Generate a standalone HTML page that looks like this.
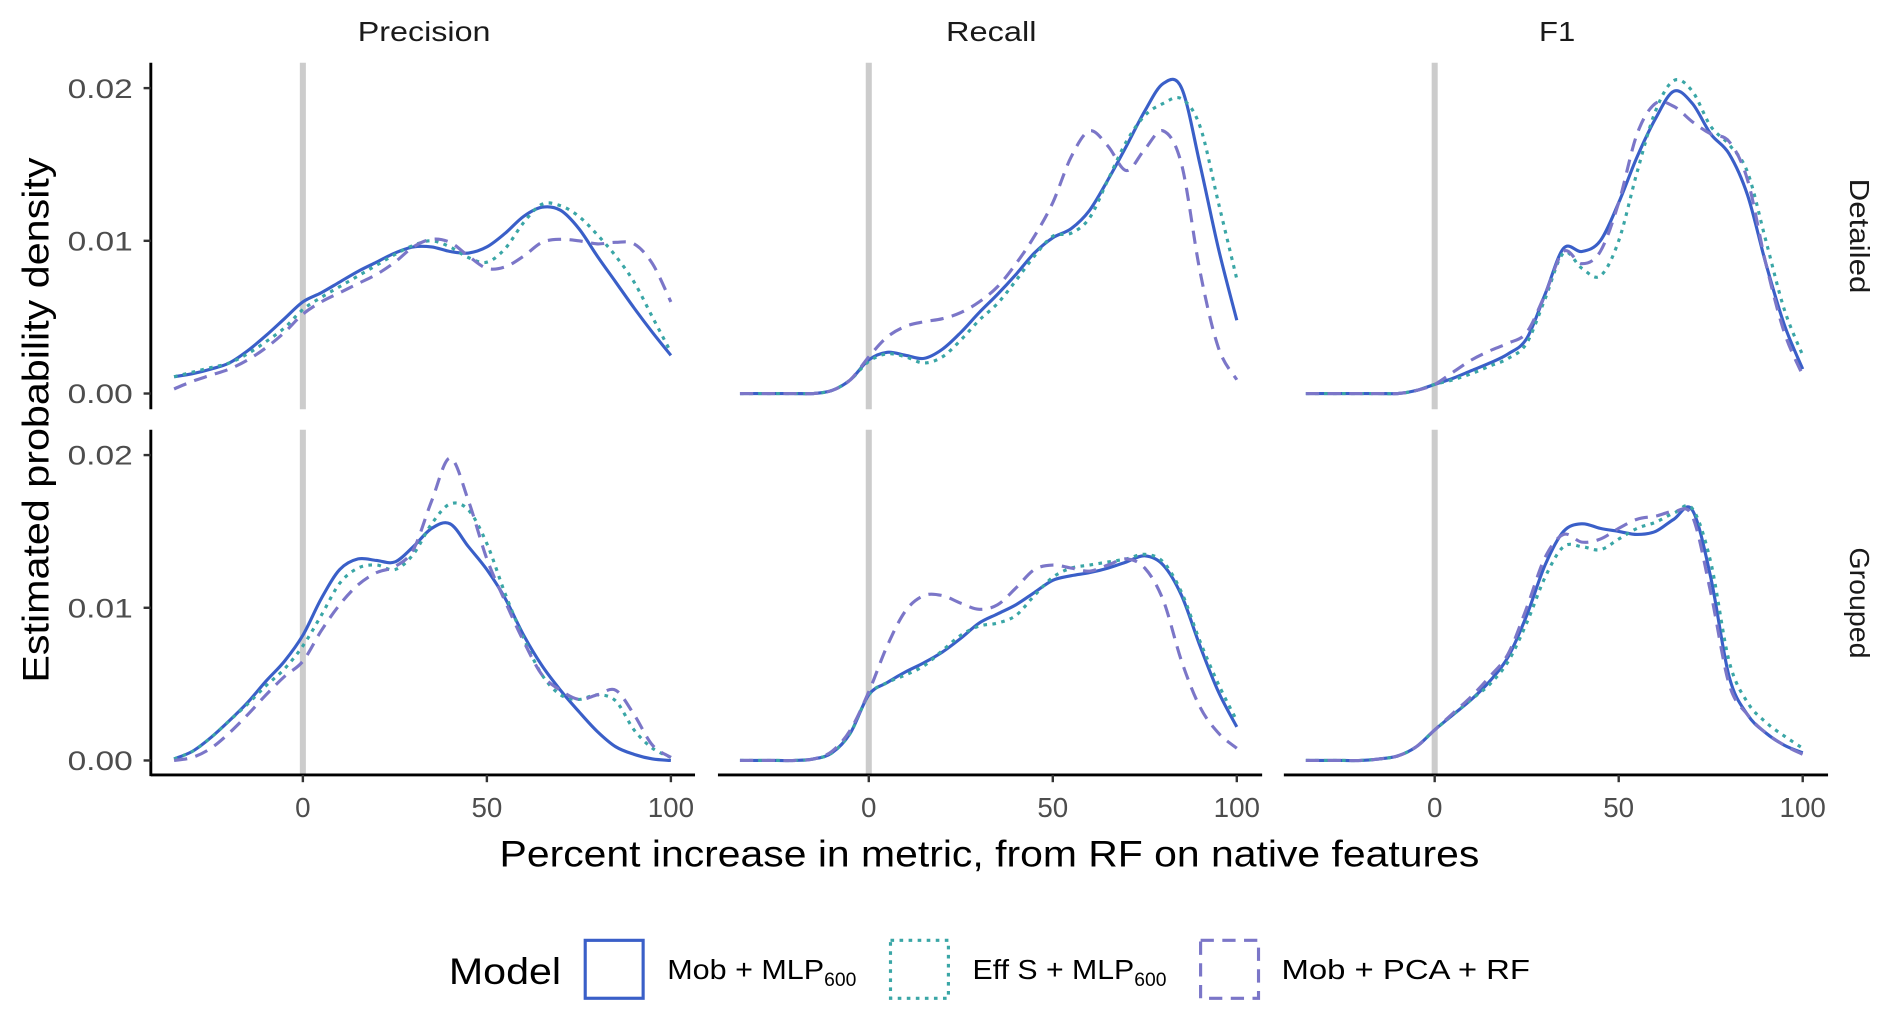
<!DOCTYPE html>
<html><head><meta charset="utf-8"><style>
html,body{margin:0;padding:0;background:#fff;}
svg{display:block;font-family:"Liberation Sans",sans-serif;}
</style></head><body>
<svg id="chart" width="1892" height="1020" viewBox="0 0 1568 845" preserveAspectRatio="none" xmlns="http://www.w3.org/2000/svg"></svg>
<script>
const xs = [-35,-30,-25,-20,-15,-10,-5,0,5,10,15,20,25,30,35,40,45,50,55,60,65,70,75,80,85,90,95,100];
const metrics = ["Precision","Recall","F1"];
const groups = ["Detailed","Grouped"];
const seriesNames = ["Mob + MLP600","Eff S + MLP600","Mob + PCA + RF"];
const yTicks = [0, 0.01, 0.02];
const yTickLabels = ["0.00","0.01","0.02"];
const xTicks = [0, 50, 100];
// densities in thousandths
const precDetBlue = [1.1,1.3,1.6,2.0,2.8,3.8,4.9,6.0,6.6,7.3,8.0,8.6,9.2,9.6,9.6,9.3,9.2,9.6,10.5,11.6,12.2,12.0,10.8,9.0,7.3,5.6,4.0,2.5];
const precDetTeal = [1.1,1.4,1.7,2.0,2.6,3.4,4.3,5.5,6.3,7.0,7.7,8.4,9.1,9.7,10.0,9.6,8.9,8.6,9.5,11.2,12.4,12.3,11.6,10.4,9.0,7.3,5.0,2.7];
const precDetPurple = [0.3,0.8,1.2,1.6,2.2,3.0,4.0,5.2,6.0,6.6,7.2,7.8,8.6,9.6,10.1,9.9,9.0,8.2,8.3,9.0,9.9,10.1,10.0,9.8,9.9,9.8,8.5,6.0];
const recDetBlue = [0,0,0,0,0,0.2,0.9,2.2,2.7,2.5,2.3,2.9,4.0,5.3,6.5,7.8,9.2,10.2,10.8,12.0,14.0,16.2,18.5,20.3,20.0,15.0,9.5,4.8];
const recDetTeal = [0,0,0,0,0,0.2,0.9,2.1,2.6,2.4,2.0,2.4,3.5,4.8,5.9,7.4,9.0,10.3,10.5,11.5,14.0,16.5,18.2,19.0,19.3,17.5,12.5,7.5];
const recDetPurple = [0,0,0,0,0,0.2,0.9,2.4,3.7,4.4,4.7,4.9,5.3,6.0,7.0,8.5,10.3,12.5,15.5,17.2,16.2,14.6,16.0,17.2,15.0,8.0,3.0,0.9];
const f1DetBlue = [0,0,0,0,0,0,0.2,0.6,1.0,1.5,2.0,2.6,3.6,6.5,9.5,9.3,10.0,12.5,15.5,18.0,19.8,19.0,17.0,15.7,13.0,8.5,4.5,1.6];
const f1DetTeal = [0,0,0,0,0,0,0.2,0.6,0.9,1.3,1.8,2.3,3.3,6.2,9.2,8.2,7.7,10.0,14.5,18.5,20.5,19.8,17.5,16.3,14.5,10.0,5.5,2.5];
const f1DetPurple = [0,0,0,0,0,0,0.2,0.6,1.4,2.2,2.8,3.3,4.0,6.5,9.3,8.5,9.3,12.5,17.0,19.0,18.8,17.8,17.0,16.5,14.0,8.5,4.0,1.2];
const precGrpBlue = [0.1,0.6,1.5,2.6,3.8,5.2,6.5,8.2,10.6,12.5,13.2,13.1,13.0,14.0,15.2,15.5,14.0,12.5,10.6,8.2,6.2,4.6,3.2,1.9,0.9,0.4,0.1,0.0];
const precGrpTeal = [0.1,0.6,1.5,2.6,3.7,4.9,6.0,7.5,9.5,11.6,12.6,12.8,12.5,13.5,15.5,16.8,16.4,14.2,10.9,8.0,5.6,4.3,4.0,4.3,3.9,2.0,0.8,0.2];
const precGrpPurple = [0.0,0.2,0.8,1.8,3.0,4.3,5.5,6.5,8.5,10.2,11.5,12.3,12.7,13.8,17.0,19.8,17.0,13.2,10.4,7.8,5.6,4.6,4.0,4.3,4.6,3.0,1.0,0.2];
const recGrpBlue = [0,0,0,0,0.1,0.5,1.8,4.3,5.1,5.8,6.4,7.1,8.0,9.0,9.6,10.2,11.0,11.8,12.1,12.3,12.6,13.0,13.4,12.8,10.8,7.5,4.5,2.2];
const recGrpTeal = [0,0,0,0,0.1,0.5,1.8,4.3,5.1,5.6,6.2,7.2,8.2,8.8,9.0,9.5,10.8,12.0,12.6,12.8,13.0,13.2,13.5,13.0,11.0,7.8,5.0,2.6];
const recGrpPurple = [0,0,0,0,0.1,0.6,2.0,4.5,7.5,9.8,10.8,10.8,10.3,9.9,10.2,11.3,12.5,12.8,12.6,12.4,12.8,13.2,12.6,10.5,6.5,3.5,1.8,0.8];
const f1GrpBlue = [0,0,0,0,0.1,0.3,0.9,2.0,3.0,4.0,5.2,6.8,9.5,12.8,15.0,15.5,15.2,15.0,14.8,15.0,15.8,16.4,12.0,5.5,3.0,1.8,1.0,0.5];
const f1GrpTeal = [0,0,0,0,0.1,0.3,0.9,2.0,3.0,4.0,5.0,6.5,9.0,12.0,14.0,14.0,13.8,14.5,15.2,15.6,16.2,16.5,13.0,6.5,3.8,2.5,1.6,0.8];
const f1GrpPurple = [0,0,0,0,0.1,0.3,0.9,2.0,3.1,4.2,5.5,7.0,10.0,13.3,14.8,14.3,14.5,15.2,15.8,16.0,16.3,16.0,11.0,5.0,3.0,1.8,1.0,0.4];

const panelData = [
  [[precDetBlue,precDetTeal,precDetPurple],[recDetBlue,recDetTeal,recDetPurple],[f1DetBlue,f1DetTeal,f1DetPurple]],
  [[precGrpBlue,precGrpTeal,precGrpPurple],[recGrpBlue,recGrpTeal,recGrpPurple],[f1GrpBlue,f1GrpTeal,f1GrpPurple]]
];

const NS="http://www.w3.org/2000/svg";
const svg=document.getElementById('chart');
function mk(tag,attrs,parent){const e=document.createElementNS(NS,tag);for(const k in attrs)e.setAttribute(k,attrs[k]);(parent||svg).appendChild(e);return e;}
const colLeft=[125,595,1064], colW=451, rowTop=[52,356], rowH=287;
const x0Pix=[251,720,1189];
const xPer=3.05;
const zeroY=[326,630], yPer=12650;
function xScale(c,v){return x0Pix[c]+v*xPer;}
function yScale(r,v){return zeroY[r]-v*yPer;}
const styles=[
  {stroke:"#3A5FC8",dash:"",w:2.6},
  {stroke:"#3AA6A6",dash:"3,4.5",w:2.6},
  {stroke:"#7B76C8",dash:"11,7",w:2.6}
];
function spline(pts){
  let d="M"+pts[0][0].toFixed(2)+","+pts[0][1].toFixed(2);
  for(let i=0;i<pts.length-1;i++){
    const p0=pts[Math.max(0,i-1)],p1=pts[i],p2=pts[i+1],p3=pts[Math.min(pts.length-1,i+2)];
    const c1x=p1[0]+(p2[0]-p0[0])/6,c1y=p1[1]+(p2[1]-p0[1])/6;
    const c2x=p2[0]-(p3[0]-p1[0])/6,c2y=p2[1]-(p3[1]-p1[1])/6;
    d+=" C"+c1x.toFixed(2)+","+c1y.toFixed(2)+" "+c2x.toFixed(2)+","+c2y.toFixed(2)+" "+p2[0].toFixed(2)+","+p2[1].toFixed(2);
  }
  return d;
}
const stripLens=[110,75,30];
for(let r=0;r<2;r++){
  for(let c=0;c<3;c++){
    const g=mk('g',{});
    
    
    const ref=mk('line',{x1:xScale(c,0),x2:xScale(c,0),y1:rowTop[r],y2:rowTop[r]+rowH,stroke:"#cccccc","stroke-width":5},g);
    
    
    for(let s=0;s<3;s++){
      const vals=panelData[r][c][s];
      const pts=xs.map((x,i)=>[xScale(c,x),yScale(r,vals[i]/1000)]);
      const p=mk('path',{d:spline(pts),fill:"none",stroke:styles[s].stroke,"stroke-width":styles[s].w,"stroke-dasharray":styles[s].dash},g);
      
      
    }
  }
  const ya=mk('line',{x1:125,x2:125,y1:rowTop[r],y2:rowTop[r]+rowH,stroke:"#000","stroke-width":2.4});
  
  
  yTicks.forEach((v,i)=>{
    const y=yScale(r,v);
    mk('line',{x1:119,x2:125,y1:y,y2:y,stroke:"#333","stroke-width":2});
    const t=mk('text',{x:110,y:y+8,"text-anchor":"end","font-size":22,fill:"#4d4d4d",textLength:54,lengthAdjust:"spacingAndGlyphs"});
    t.textContent=yTickLabels[i];
    
    
  });
  const st=mk('text',{transform:`translate(1533,${rowTop[r]+rowH/2}) rotate(90)`,"text-anchor":"middle","font-size":23,fill:"#1a1a1a",textLength:r===0?95:92,lengthAdjust:"spacingAndGlyphs"});
  st.textContent=groups[r];
  
  
}
for(let c=0;c<3;c++){
  const xa=mk('line',{x1:colLeft[c],x2:colLeft[c]+colW,y1:642,y2:642,stroke:"#000","stroke-width":2.4});
  
  
  xTicks.forEach(v=>{
    const x=xScale(c,v);
    mk('line',{x1:x,x2:x,y1:642,y2:648,stroke:"#333","stroke-width":2});
    const t=mk('text',{x:x,y:677,"text-anchor":"middle","font-size":23,fill:"#4d4d4d"});
    t.textContent=v;
    
    
  });
  const st=mk('text',{x:colLeft[c]+colW/2+1,y:34,"text-anchor":"middle","font-size":23,fill:"#1a1a1a",textLength:stripLens[c],lengthAdjust:"spacingAndGlyphs"});
  st.textContent=metrics[c];
  
  
}
</script>
<svg style="position:absolute;left:0;top:0" width="1892" height="1020" viewBox="0 0 1568 845" preserveAspectRatio="none" xmlns="http://www.w3.org/2000/svg" font-family="Liberation Sans, sans-serif">
  <text transform="translate(40,348) rotate(-90)" text-anchor="middle" font-size="31" fill="#000" textLength="435" lengthAdjust="spacingAndGlyphs">Estimated probability density</text>
  <text x="820" y="718" text-anchor="middle" font-size="31" fill="#000" textLength="812" lengthAdjust="spacingAndGlyphs">Percent increase in metric, from RF on native features</text>
  <g>
    <text x="372" y="815" font-size="31" fill="#000" textLength="93" lengthAdjust="spacingAndGlyphs">Model</text>
    <rect x="485" y="779" width="48" height="48" fill="none" stroke="#3A5FC8" stroke-width="2.6"/>
    <text x="553" y="811" font-size="23" fill="#000"><tspan textLength="130" lengthAdjust="spacingAndGlyphs">Mob + MLP</tspan><tspan font-size="16" dy="6">600</tspan></text>
    <rect x="738" y="779" width="48" height="48" fill="none" stroke="#3AA6A6" stroke-width="2.6" stroke-dasharray="3,4.5"/>
    <text x="806" y="811" font-size="23" fill="#000"><tspan textLength="134" lengthAdjust="spacingAndGlyphs">Eff S + MLP</tspan><tspan font-size="16" dy="6">600</tspan></text>
    <rect x="995" y="779" width="48" height="48" fill="none" stroke="#7B76C8" stroke-width="2.6" stroke-dasharray="11,7"/>
    <text x="1062" y="811" font-size="23" fill="#000" textLength="206" lengthAdjust="spacingAndGlyphs">Mob + PCA + RF</text>
  </g>
</svg>
</body></html>
